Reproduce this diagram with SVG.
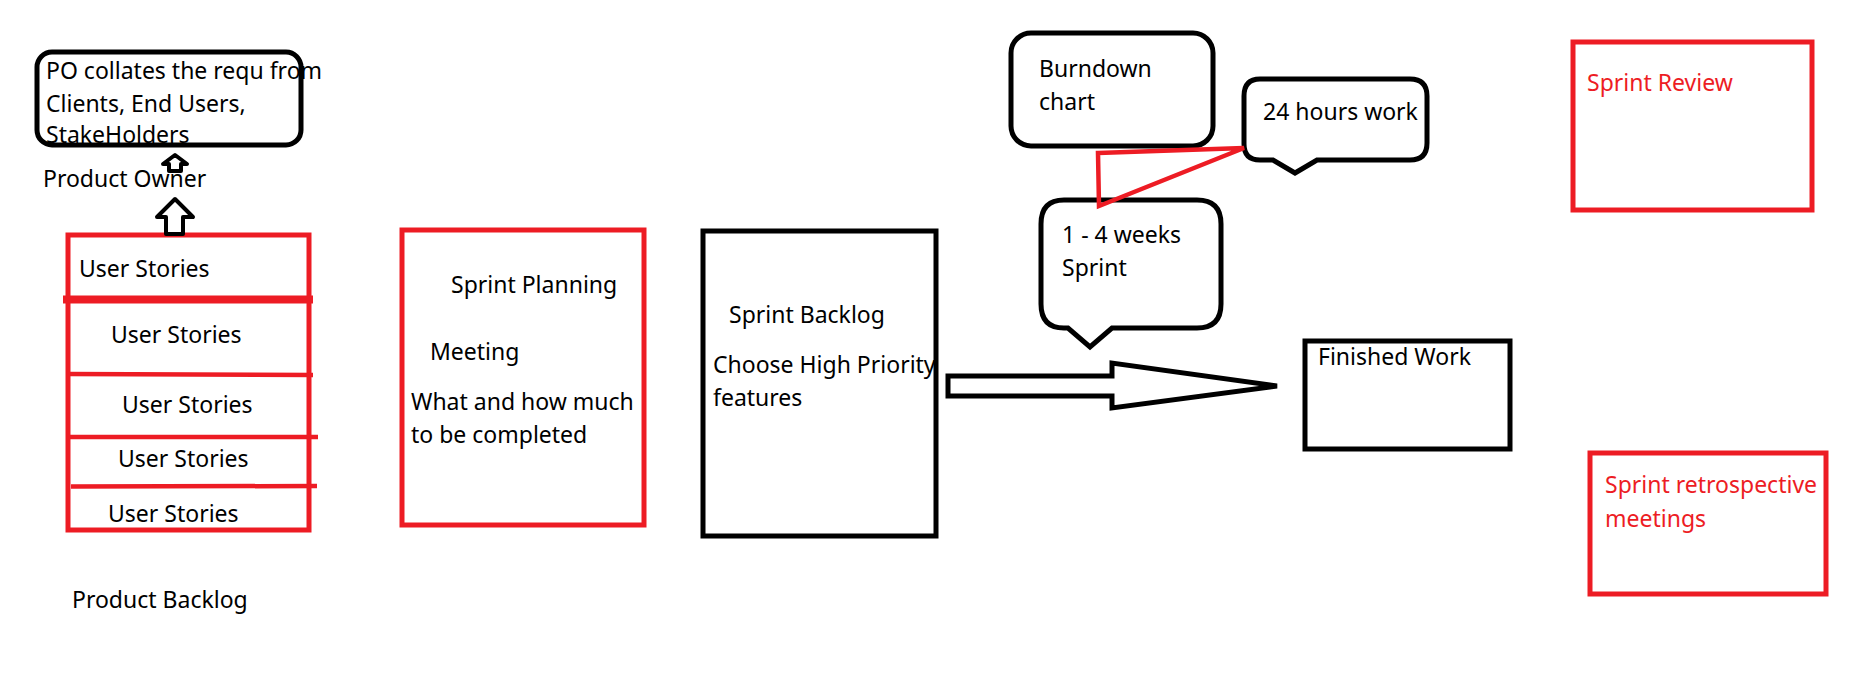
<svg xmlns="http://www.w3.org/2000/svg" width="1873" height="697" viewBox="0 0 1873 697">
<style>
  .t { font-family: "Noto Sans", "Open Sans", sans-serif; font-size: 23px; fill: #000; }
  .tr { font-family: "Noto Sans", "Open Sans", sans-serif; font-size: 23px; fill: #ED1C24; }
  .bk { fill: none; stroke: #000; stroke-width: 5; stroke-linejoin: miter; }
  .rd { fill: none; stroke: #ED1C24; stroke-width: 5; }
  .bk4 { fill: #fff; stroke: #000; stroke-width: 4; stroke-linejoin: round; }
</style>
<rect width="1873" height="697" fill="#fff"/>

<g id="po-box">
  <rect x="37" y="52" width="264" height="93" rx="15" ry="15" class="bk" stroke-width="4.5"/>
  <text class="t" x="46" y="79">PO collates the requ from</text>
  <text class="t" x="46" y="112">Clients, End Users,</text>
  <text class="t" x="46" y="143">StakeHolders</text>
</g>

<g id="product-owner">
  <text class="t" x="43" y="187">Product Owner</text>
</g>

<g id="product-backlog">
  <rect x="68" y="235" width="241" height="295" class="rd" stroke-width="4.5"/>
  <line x1="63" y1="299.5" x2="313" y2="299.5" stroke="#ED1C24" stroke-width="8"/>
  <line x1="68" y1="374" x2="313" y2="375" stroke="#ED1C24" stroke-width="4.5"/>
  <line x1="68" y1="437" x2="318" y2="437" stroke="#ED1C24" stroke-width="4.5"/>
  <line x1="71" y1="486.5" x2="317" y2="486" stroke="#ED1C24" stroke-width="4.5"/>
  <text class="t" x="79" y="277">User Stories</text>
  <text class="t" x="111" y="343">User Stories</text>
  <text class="t" x="122" y="413">User Stories</text>
  <text class="t" x="118" y="467">User Stories</text>
  <text class="t" x="108" y="522">User Stories</text>
  <text class="t" x="72" y="608">Product Backlog</text>
</g>

<g id="sprint-planning">
  <rect x="402" y="230" width="242" height="295" class="rd"/>
  <text class="t" x="451" y="293">Sprint Planning</text>
  <text class="t" x="430" y="360">Meeting</text>
  <text class="t" x="411" y="410">What and how much</text>
  <text class="t" x="411" y="443">to be completed</text>
</g>

<g id="sprint-backlog">
  <rect x="703" y="231" width="233" height="305" class="bk"/>
  <text class="t" x="729" y="323">Sprint Backlog</text>
  <text class="t" x="713" y="373">Choose High Priority</text>
  <text class="t" x="713" y="406">features</text>
</g>

<g id="burndown">
  <rect x="1011" y="33" width="202" height="113" rx="20" ry="20" class="bk" stroke-width="4.5"/>
  <text class="t" x="1039" y="77">Burndown</text>
  <text class="t" x="1039" y="110">chart</text>
</g>

<g id="hours-bubble">
  <path d="M1260,79 H1410 Q1427,79 1427,96 V143 Q1427,160 1410,160 H1317 L1295,173 L1273,160 H1260 Q1244,160 1244,144 V96 Q1244,79 1260,79 Z" class="bk" stroke-width="4.5"/>
  <text class="t" x="1263" y="120">24 hours work</text>
</g>

<g id="sprint-bubble">
  <path d="M1064,200 H1197 Q1221,200 1221,224 V304 Q1221,328 1197,328 H1112 L1090,347 L1068,328 H1064 Q1041,328 1041,304 V224 Q1041,200 1064,200 Z" class="bk" stroke-width="4.5"/>
  <text class="t" x="1062" y="243">1 - 4 weeks</text>
  <text class="t" x="1062" y="276">Sprint</text>
</g>

<g id="finished-work">
  <rect x="1305" y="341" width="205" height="108" class="bk"/>
  <text class="t" x="1318" y="365">Finished Work</text>
</g>

<g id="sprint-review">
  <rect x="1573" y="42" width="239" height="168" class="rd"/>
  <text class="tr" x="1587" y="91">Sprint Review</text>
</g>

<g id="sprint-retro">
  <rect x="1590" y="453" width="236" height="141" class="rd"/>
  <text class="tr" x="1605" y="493">Sprint retrospective</text>
  <text class="tr" x="1605" y="527">meetings</text>
</g>

<g id="connectors">
  <polygon points="175,155 187,164 181,164 181,171 169,171 169,164 163,164" class="bk4" stroke-width="3.5"/>
  <polygon points="175,199 193,217 183,217 183,234 166,234 166,217 157,217" class="bk4"/>
  <polygon points="948,376 1112,376 1112,363 1277,386 1112,408 1112,396 948,396" fill="#fff" stroke="#000" stroke-width="5" stroke-linejoin="miter"/>
  <polygon points="1098,153 1244,148 1099,206" fill="none" stroke="#ED1C24" stroke-width="4.5" stroke-linejoin="miter"/>
</g>
</svg>
